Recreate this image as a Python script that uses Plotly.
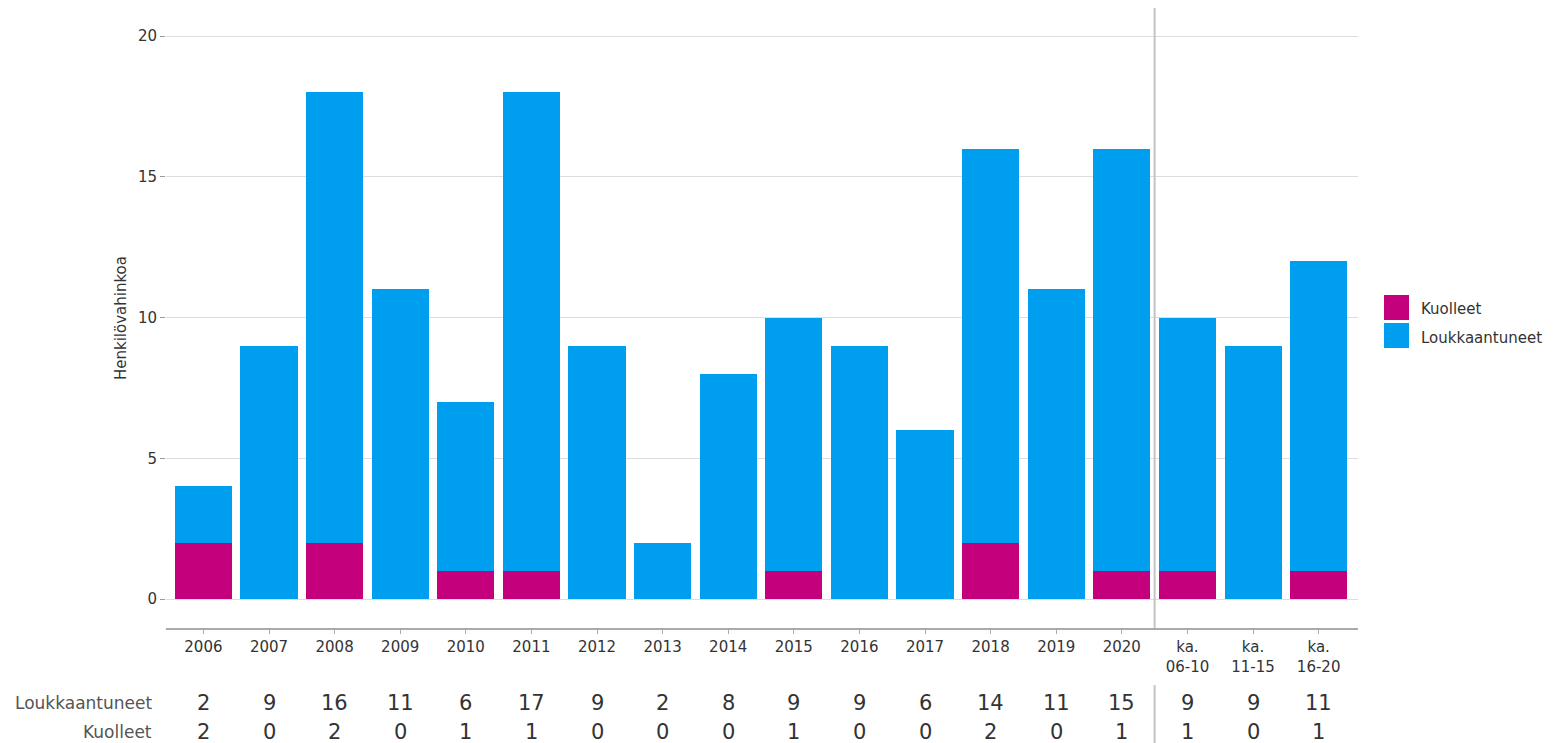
import plotly.graph_objects as go

categories = ["2006", "2007", "2008", "2009", "2010", "2011", "2012", "2013", "2014",
              "2015", "2016", "2017", "2018", "2019", "2020",
              "ka.<br>06-10", "ka.<br>11-15", "ka.<br>16-20"]
loukkaantuneet = [2, 9, 16, 11, 6, 17, 9, 2, 8, 9, 9, 6, 14, 11, 15, 9, 9, 11]
kuolleet = [2, 0, 2, 0, 1, 1, 0, 0, 0, 1, 0, 0, 2, 0, 1, 1, 0, 1]
y_ticks = [0, 5, 10, 15, 20]
series_names = ["Kuolleet", "Loukkaantuneet"]

MAGENTA = "#C5007C"
BLUE = "#009EEF"
FONT = "DejaVu Sans"

fig = go.Figure()
fig.add_trace(go.Bar(x=categories, y=kuolleet, name=series_names[0],
                     marker=dict(color=MAGENTA, line=dict(width=0)), width=0.87))
fig.add_trace(go.Bar(x=categories, y=loukkaantuneet, name=series_names[1],
                     marker=dict(color=BLUE, line=dict(width=0)), width=0.87))

annotations = []
rows = [("Loukkaantuneet", loukkaantuneet, -0.121), ("Kuolleet", kuolleet, -0.167)]
for label, vals, yp in rows:
    annotations.append(dict(x=-0.010, xref="paper", y=yp, yref="paper", text=label,
                            showarrow=False, xanchor="right", yanchor="middle",
                            font=dict(family=FONT, size=17, color="#555555")))
    for i, v in enumerate(vals):
        annotations.append(dict(x=i, xref="x", y=yp, yref="paper", text=str(v),
                                showarrow=False, xanchor="center", yanchor="middle",
                                font=dict(family=FONT, size=21, color="#333333")))

shapes = [
    dict(type="line", xref="x", yref="paper", x0=14.5, x1=14.5, y0=0, y1=1,
         line=dict(color="#C4C4C4", width=2)),
    dict(type="line", xref="x", yref="paper", x0=14.5, x1=14.5, y0=-0.092, y1=-0.2,
         line=dict(color="#C4C4C4", width=2)),
]

# legend (large squares as in the reference)
legend_items = [(series_names[0], MAGENTA, 0.5371, 0.4968, 0.514),
                (series_names[1], BLUE, 0.4919, 0.4516, 0.468)]
for name, col, ytop, ybot, ytxt in legend_items:
    shapes.append(dict(type="rect", xref="paper", yref="paper", x0=1.0218, x1=1.0428,
                       y0=ybot, y1=ytop, fillcolor=col, line=dict(width=0)))
    annotations.append(dict(x=1.0512, xref="paper", y=ytxt, yref="paper", text=name,
                            showarrow=False, xanchor="left", yanchor="middle",
                            font=dict(family=FONT, size=15, color="#333333")))

fig.update_layout(
    barmode="stack",
    width=1554, height=743,
    margin=dict(l=166, r=196, t=8, b=115),
    plot_bgcolor="white", paper_bgcolor="white",
    font=dict(family=FONT, size=15, color="#333333"),
    showlegend=False,
    annotations=annotations,
    shapes=shapes,
    xaxis=dict(type="category", range=[-0.57, 17.6], showline=True, linecolor="#AAAAAA",
               linewidth=2, ticks="outside", ticklen=4, tickcolor="#AAAAAA",
               tickfont=dict(family=FONT, size=15, color="#333333"), showgrid=False),
    yaxis=dict(range=[-1.03, 21.0], tickvals=y_ticks, ticks="outside", ticklen=5,
               tickcolor="#999999", showgrid=True, gridcolor="#DDDDDD", zeroline=False,
               showline=False, tickfont=dict(family=FONT, size=15, color="#333333"),
               title=dict(text="Henkilövahinkoa", font=dict(family=FONT, size=15, color="#333333"),
                          standoff=7)),
)

fig.write_html("out.html", config={"displayModeBar": False},
               post_script="document.body.style.margin='0';")
